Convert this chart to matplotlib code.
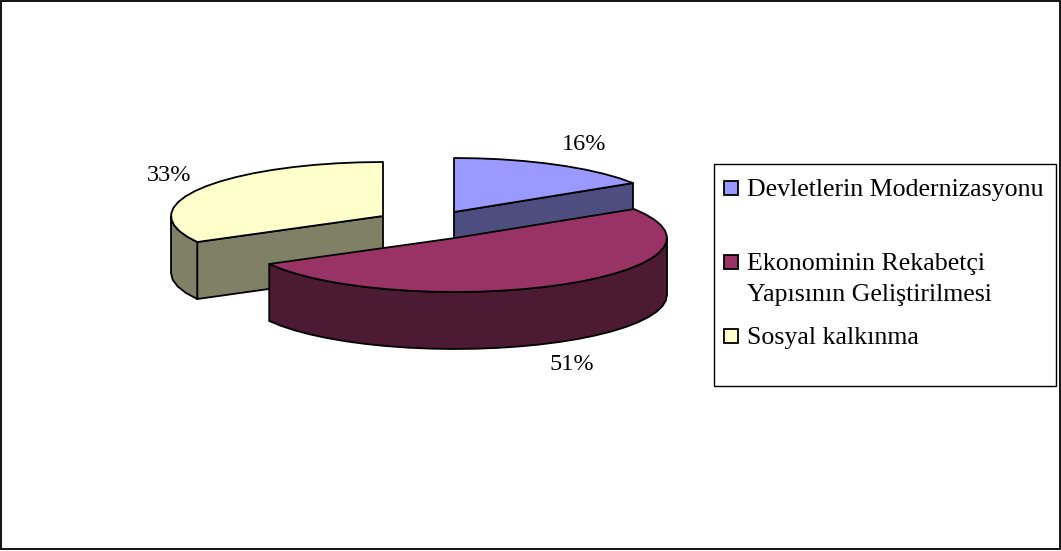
# -*- coding: utf-8 -*-
import numpy as np
import matplotlib
matplotlib.use("Agg")
import matplotlib.pyplot as plt
from matplotlib.patches import Polygon, Rectangle

plt.rcParams['font.family'] = ['Liberation Serif', 'DejaVu Serif']

# data
categories = ["Devletlerin Modernizasyonu",
              "Ekonominin Rekabetçi\nYapısının Geliştirilmesi",
              "Sosyal kalkınma"]
shares = [16, 51, 33]
pct_labels = ["16%", "51%", "33%"]

# look of the slices
top_cols = ["#9999FF", "#993366", "#FFFFCC"]
side_cols = ["#4D4D80", "#4D1A33", "#808066"]

# layout, pixels
W, H = 1061, 551
RX, RY = 212, 54
DEPTH = 57
centres = [(454, 212), (455, 238), (383, 216)]
label_pos = [(584, 142), (572, 362), (169, 173)]
leg_y = [188, 262, 336]
STEP = 6.0  # degrees, the rim of the original is a coarse polygon


def rim(cx, cy, a0, a1):
    n = max(int((a1 - a0) / STEP), 1)
    t = np.radians(np.linspace(a0, a1, n + 1))
    return np.column_stack([cx + RX*np.sin(t), cy - RY*np.cos(t)])


fig = plt.figure(figsize=(W/100, H/100), dpi=100)
ax = fig.add_axes([0, 0, 1, 1])
ax.set_xlim(0, W)
ax.set_ylim(H, 0)
ax.axis('off')

ax.add_patch(Rectangle((1, 1), W-2, H-3, fc='white', ec='black', lw=1.3))

edges = np.cumsum([0] + shares) * 3.6


def draw_slice(i):
    cx, cy = centres[i]
    a0, a1 = edges[i], edges[i+1]
    down = np.array([0, DEPTH])
    apex = np.array([[cx, cy]])
    # radial walls that face the viewer
    for a, show in ((a0, 180 < a0 < 360), (a1, 0 < a1 < 180)):
        if show:
            p = rim(cx, cy, a, a)[:1]
            wall = np.vstack([apex, p, p + down, apex + down])
            ax.add_patch(Polygon(wall, fc=side_cols[i], ec='black', lw=1.3, joinstyle='round'))
    # outer wall, front half only
    b0, b1 = max(a0, 90), min(a1, 270)
    if b1 > b0:
        r = rim(cx, cy, b0, b1)
        wall = np.vstack([r, (r + down)[::-1]])
        ax.add_patch(Polygon(wall, fc=side_cols[i], ec='black', lw=1.3, joinstyle='round'))
    top = np.vstack([apex, rim(cx, cy, a0, a1)])
    ax.add_patch(Polygon(top, fc=top_cols[i], ec='black', lw=1.3, joinstyle='round'))


for i in (2, 0, 1):
    draw_slice(i)

for lab, (x, y) in zip(pct_labels, label_pos):
    ax.text(x, y, lab, ha='center', va='center_baseline', fontsize=17.5, color='black')

# legend box
ax.add_patch(Rectangle((714, 164), 342, 222, fc='white', ec='black', lw=1.0))
for i, cat in enumerate(categories):
    ax.add_patch(Rectangle((724, leg_y[i]-7), 14, 14, fc=top_cols[i], ec='black', lw=1.3))
    ax.text(747, leg_y[i]-9, cat, ha='left', va='top', fontsize=18.6,
            linespacing=1.5, color='black')

fig.savefig("out.png", dpi=100)
